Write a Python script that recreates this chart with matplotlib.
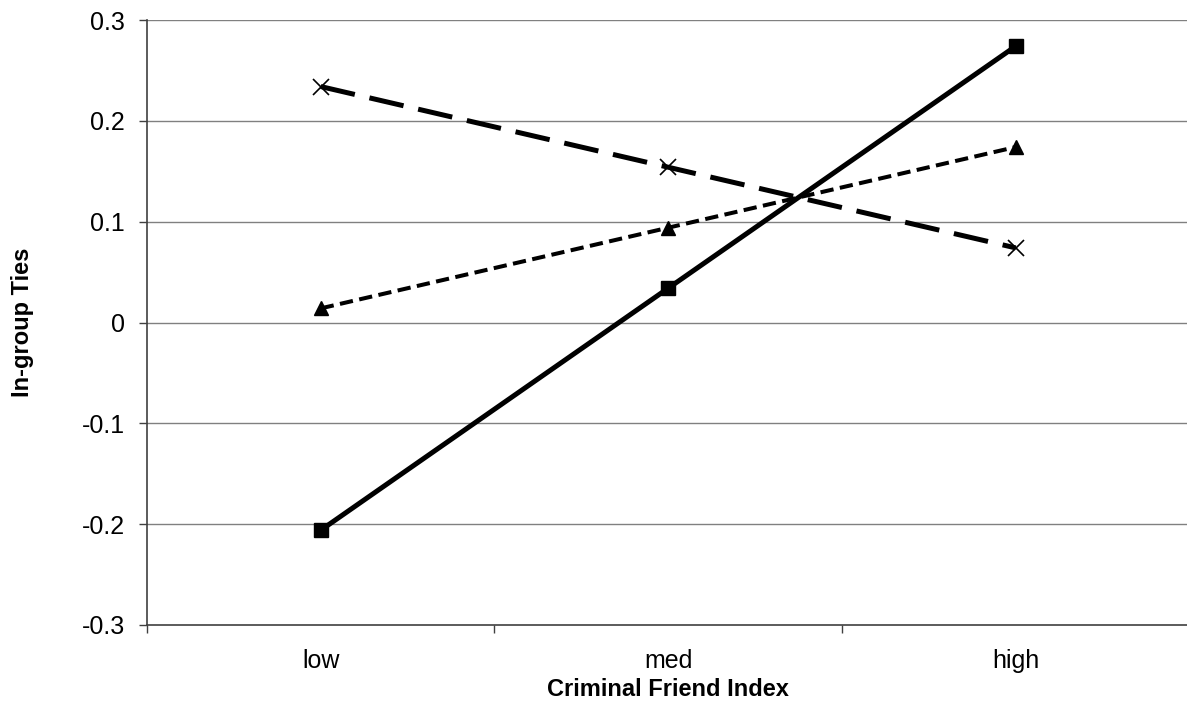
import numpy as np
import matplotlib
matplotlib.use('Agg')
import matplotlib.pyplot as plt

categories = ['low', 'med', 'high']
series_square = [-0.206, 0.034, 0.274]
series_triangle = [0.014, 0.094, 0.174]
series_cross = [0.234, 0.154, 0.074]
yticks = [-0.3, -0.2, -0.1, 0, 0.1, 0.2, 0.3]

plt.rcParams['font.family'] = ['Liberation Sans', 'DejaVu Sans']

fig = plt.figure(figsize=(11.87, 7.01), dpi=100)
ax = fig.add_axes([147/1187, 1 - 625/701, 1 - 147/1187 + 0.002, 605/701])

x = np.arange(len(categories))

for yv in yticks[1:]:
    ax.axhline(yv, color='#808080', lw=1.0, zorder=1)

ax.plot(x, series_cross, color='black', lw=3.6, dashes=(7, 3), marker='x',
        markersize=11, markeredgewidth=1.2, zorder=3)
ax.plot(x, series_triangle, color='black', lw=2.9, dashes=(3.3, 1.6), marker='^',
        markersize=10, zorder=3)
ax.plot(x, series_square, color='black', lw=3.6, marker='s',
        markersize=10, zorder=4)

ax.set_xlim(-0.5, 2.5)
ax.set_ylim(-0.3, 0.3)
ax.set_yticks(yticks)
ax.set_yticklabels(['-0.3', '-0.2', '-0.1', '0', '0.1', '0.2', '0.3'])

ax.set_xticks([-0.5, 0.5, 1.5, 2.5])
ax.set_xticklabels([])
ax.set_xticks(x, minor=True)
ax.set_xticklabels(categories, minor=True)
ax.tick_params(axis='x', which='minor', length=0, pad=17, labelsize=18)
ax.tick_params(axis='x', which='major', length=6, width=1, color='#404040')
ax.tick_params(axis='y', length=6, width=1, color='#404040', labelsize=18, pad=10)

for s in ['top', 'right']:
    ax.spines[s].set_visible(False)
ax.spines['left'].set_color('#404040')
ax.spines['bottom'].set_color('#404040')
ax.spines['left'].set_linewidth(1.2)
ax.spines['bottom'].set_linewidth(1.2)

ax.set_xlabel('Criminal Friend Index', fontsize=17, fontweight='bold', labelpad=4)
ax.set_ylabel('In-group Ties', fontsize=17, fontweight='bold', labelpad=34)

fig.savefig('out.png', dpi=100)
